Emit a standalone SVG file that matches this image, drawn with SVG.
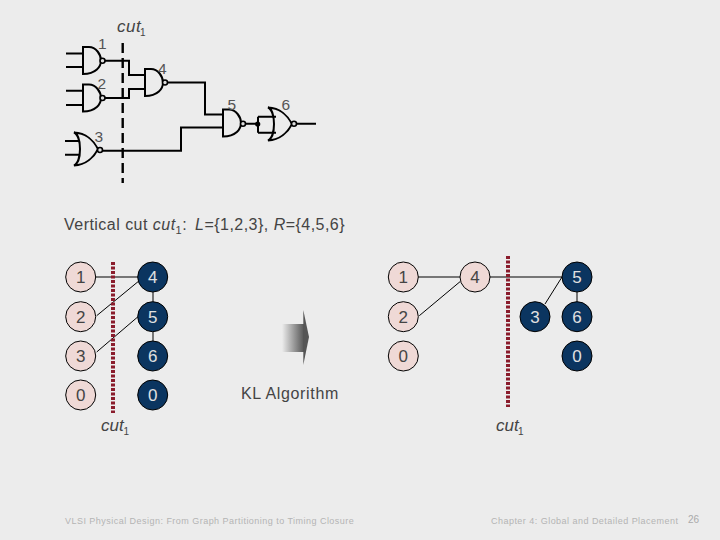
<svg xmlns="http://www.w3.org/2000/svg" width="720" height="540" viewBox="0 0 720 540">
<style>
text{font-family:"Liberation Sans",Arial,sans-serif}
.g{fill:none;stroke:#000;stroke-width:2}
.b{fill:#ddd;stroke:#000;stroke-width:1.6}
.w{fill:none;stroke:#000;stroke-width:2}
.lb{font-size:15.5px;fill:#555}
.it{font-size:17px;font-style:italic;fill:#444}
.sub{font-size:10px;fill:#444}
.e{fill:none;stroke:#000;stroke-width:1}
.cut{stroke:#8a1c2c;stroke-width:4;stroke-dasharray:3 1.5;fill:none}
.p circle{fill:#efd9d6;stroke:#000;stroke-width:1}
.d circle{fill:#0b3560;stroke:#000;stroke-width:1}
.p text,.d text{font-size:17px;text-anchor:middle}
.p text{fill:#444}
.d text{fill:#e0e0e0}
.f{font-size:9px;fill:#b4b4b4;letter-spacing:.47px}
</style>
<defs>
<linearGradient id="ag" x1="0" x2="1" y1="0" y2="0"><stop offset="0" stop-color="#ececec"/><stop offset="1" stop-color="#555"/></linearGradient>
<path id="and" class="g" d="M0 -13.5H6C13 -13.5 18 -6 18 0C18 6 13 13.5 0 13.5Z"/>
<path id="or" class="g" d="M0 -16.5C8 -13 8 13 0 16.5C12 16 20 8 24 0C20 -8 12 -16 0 -16.5Z"/>
</defs>
<rect width="720" height="540" fill="#ececec"/>
<g id="connectors">
<path class="w" d="M66 53.5H83M66 67H83M66 90.7H83M66 105H83M65 141H80M65 154.7H80"/>
<path class="w" d="M105 60.7H129V75H145M105 98H129V89H145M168 82.5H205V114.5H223M102 150.7H181V127.5H223M246 123.7H258M258 116.7H276M258 132.7H276M258 116.7V132.7M296 123.7H316"/>
<path d="M122.7 43V183" fill="none" stroke="#000" stroke-width="2.4" stroke-dasharray="10 5"/>
<path class="e" d="M95 277H138M96.7 315.7L138 281.7M96.7 352L138 316.7M153 292V302M153 332V341M418 277H460M419.3 315.7L460 281.7M490 277H562M545 304L562 277M577 292V302"/>
<path class="cut" d="M113 262V413M508 256V407"/>
</g>
<g id="gate1"><use href="#and" x="83" y="60.5"/><circle class="b" cx="102.5" cy="60.7" r="2.5"/><text class="lb" x="98" y="49">1</text></g>
<g id="gate2"><use href="#and" x="83" y="98"/><circle class="b" cx="102.5" cy="98" r="2.5"/><text class="lb" x="97.5" y="89">2</text></g>
<g id="gate3"><use href="#or" x="74" y="149"/><circle class="b" cx="100" cy="150" r="2.5"/><text class="lb" x="94.5" y="142">3</text></g>
<g id="gate4"><use href="#and" x="145" y="82.5"/><circle class="b" cx="165" cy="82.5" r="2.5"/><text class="lb" x="158" y="74">4</text></g>
<g id="gate5"><use href="#and" x="223" y="123"/><circle class="b" cx="243" cy="123.7" r="2.5"/><text class="lb" x="227.5" y="110">5</text></g>
<g id="gate6"><use href="#or" x="268" y="124"/><circle class="b" cx="294" cy="123.7" r="2.5"/><circle cx="257.7" cy="124" r="2.6" fill="#000"/><text class="lb" x="281.5" y="110">6</text></g>
<g id="cut-top"><text class="it" x="117" y="32" letter-spacing=".5">cut</text><text class="sub" x="140" y="35.5">1</text></g>
<text id="caption" x="64" y="230" font-size="16" fill="#444" letter-spacing=".47">Vertical cut <tspan font-style="italic">cut</tspan><tspan font-size="11" dy="4">1</tspan><tspan dy="-4">: </tspan><tspan font-style="italic" dx="3">L</tspan>={1,2,3}, <tspan font-style="italic">R</tspan>={4,5,6}</text>
<g id="l1" class="p"><circle cx="80.7" cy="277" r="15"/><text x="80.7" y="283">1</text></g>
<g id="l2" class="p"><circle cx="80.7" cy="316.7" r="15"/><text x="80.7" y="322.7">2</text></g>
<g id="l3" class="p"><circle cx="80.7" cy="356" r="15"/><text x="80.7" y="362">3</text></g>
<g id="l0" class="p"><circle cx="80.7" cy="395" r="15"/><text x="80.7" y="401">0</text></g>
<g id="l4" class="d"><circle cx="152.7" cy="277" r="15"/><text x="152.7" y="283">4</text></g>
<g id="l5" class="d"><circle cx="152.7" cy="316.7" r="15"/><text x="152.7" y="322.7">5</text></g>
<g id="l6" class="d"><circle cx="152.7" cy="356" r="15"/><text x="152.7" y="362">6</text></g>
<g id="l0b" class="d"><circle cx="152.7" cy="395" r="15"/><text x="152.7" y="401">0</text></g>
<g id="r1" class="p"><circle cx="403.3" cy="277" r="15"/><text x="403.3" y="283">1</text></g>
<g id="r2" class="p"><circle cx="403.3" cy="316.7" r="15"/><text x="403.3" y="322.7">2</text></g>
<g id="r0" class="p"><circle cx="403.3" cy="356" r="15"/><text x="403.3" y="362">0</text></g>
<g id="r4" class="p"><circle cx="475" cy="277" r="15"/><text x="475" y="283">4</text></g>
<g id="r5" class="d"><circle cx="577" cy="277" r="15"/><text x="577" y="283">5</text></g>
<g id="r3" class="d"><circle cx="535" cy="316.7" r="15"/><text x="535" y="322.7">3</text></g>
<g id="r6" class="d"><circle cx="577" cy="316.7" r="15"/><text x="577" y="322.7">6</text></g>
<g id="r0b" class="d"><circle cx="577" cy="356" r="15"/><text x="577" y="362">0</text></g>
<g id="arrow"><rect x="282" y="324" width="22" height="28" fill="url(#ag)"/><path d="M303.3 310L309 337L303.3 365Z" fill="#555"/></g>
<text id="kl" x="241" y="399" font-size="16" fill="#444" letter-spacing=".65">KL Algorithm</text>
<g id="cut-left"><text class="it" x="101" y="431">cut</text><text class="sub" x="123.5" y="435">1</text></g>
<g id="cut-right"><text class="it" x="496" y="431">cut</text><text class="sub" x="518" y="435">1</text></g>
<text class="f" x="65" y="524">VLSI Physical Design: From Graph Partitioning to Timing Closure</text>
<text class="f" x="491" y="524">Chapter 4: Global and Detailed Placement</text>
<text x="688" y="523" font-size="10" fill="#aaa">26</text>
</svg>
